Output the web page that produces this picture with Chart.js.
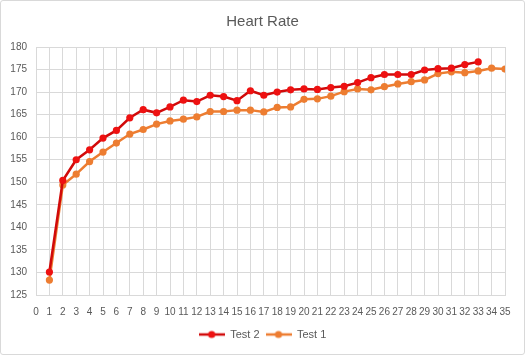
<!DOCTYPE html>
<html>
<head>
<meta charset="utf-8">
<script src="https://cdn.jsdelivr.net/npm/chart.js@4/dist/chart.umd.min.js"></script>
<style>
  html, body { margin: 0; padding: 0; background: #fff; }
  #wrap { width: 523px; height: 353px; border: 1px solid #d9d9d9; border-radius: 3px; position: relative; }
  canvas { display: block; }
</style>
</head>
<body>
<div id="wrap"><canvas id="c" width="523" height="353"></canvas></div>
<script>
const chartTitle = "Heart Rate";
const seriesNames = ["Test 2", "Test 1"];
const xTest2 = [1,2,3,4,5,6,7,8,9,10,11,12,13,14,15,16,17,18,19,20,21,22,23,24,25,26,27,28,29,30,31,32,33];
const test2 = [130.1,150.4,155.0,157.2,159.8,161.5,164.3,166.1,165.4,166.7,168.2,167.9,169.3,169.0,168.1,170.3,169.3,170.0,170.5,170.7,170.6,171.0,171.3,172.1,173.2,173.9,173.9,173.9,174.9,175.2,175.3,176.1,176.7];
const xTest1 = [1,2,3,4,5,6,7,8,9,10,11,12,13,14,15,16,17,18,19,20,21,22,23,24,25,26,27,28,29,30,31,32,33,34,35];
const test1 = [128.3,149.4,151.8,154.6,156.7,158.7,160.7,161.7,162.9,163.6,164.0,164.5,165.7,165.7,166.0,166.0,165.6,166.6,166.7,168.4,168.5,169.1,170.1,170.7,170.5,171.2,171.8,172.3,172.7,174.1,174.5,174.3,174.7,175.3,175.1];
const xMin = 0, xMax = 35, xStep = 1;
const yMin = 125, yMax = 180, yStep = 5;

const redLine = '#D10A0A', redPoint = '#EE1111';
const orangeLine = '#ED7D31', orangePoint = '#ED7D31';
const gridColor = '#D9D9D9';
const textColor = '#595959';
const fontFamily = "'Liberation Sans', Arial, sans-serif";

function legendIcon(lineColor, pointColor) {
  const c = document.createElement('canvas');
  c.width = 26; c.height = 10;
  const g = c.getContext('2d');
  g.strokeStyle = lineColor; g.lineWidth = 2.5;
  g.beginPath(); g.moveTo(0, 5); g.lineTo(26, 5); g.stroke();
  g.fillStyle = pointColor;
  g.beginPath(); g.arc(13, 5, 3.6, 0, Math.PI * 2); g.fill();
  return c;
}

const toPts = (xs, ys) => ys.map((v, i) => ({x: xs[i], y: v}));

new Chart(document.getElementById('c'), {
  type: 'line',
  data: {
    datasets: [
      { label: seriesNames[0], data: toPts(xTest2, test2), borderColor: redLine, backgroundColor: redPoint,
        pointBackgroundColor: redPoint, pointBorderColor: redPoint, pointRadius: 3.6, pointBorderWidth: 0,
        borderWidth: 2.5, tension: 0, pointStyle: 'circle' },
      { label: seriesNames[1], data: toPts(xTest1, test1), borderColor: orangeLine, backgroundColor: orangePoint,
        pointBackgroundColor: orangePoint, pointBorderColor: orangePoint, pointRadius: 3.6, pointBorderWidth: 0,
        borderWidth: 2.5, tension: 0, pointStyle: 'circle' }
    ]
  },
  options: {
    responsive: false,
    animation: false,
    layout: { padding: { left: 0, right: 0, top: 0, bottom: 4 } },
    plugins: {
      title: { display: true, text: chartTitle, color: textColor,
        font: { family: fontFamily, size: 15, weight: 'normal' }, padding: { top: 12, bottom: 16 } },
      legend: { position: 'bottom',
        labels: { color: textColor, font: { family: fontFamily, size: 11 }, usePointStyle: true,
          pointStyleWidth: 26, boxHeight: 10, padding: 6,
          generateLabels: (chart) => chart.data.datasets.map((ds, i) => ({
            text: ds.label, fillStyle: ds.pointBackgroundColor, strokeStyle: ds.borderColor,
            lineWidth: 0, pointStyle: legendIcon(ds.borderColor, ds.pointBackgroundColor),
            datasetIndex: i, hidden: false, fontColor: textColor
          }))
        } },
      tooltip: { enabled: false }
    },
    scales: {
      x: { type: 'linear', min: xMin, max: xMax,
        grid: { color: gridColor, drawTicks: false, lineWidth: 1 },
        border: { color: gridColor },
        ticks: { stepSize: xStep, autoSkip: false, maxRotation: 0, color: textColor, padding: 11,
          font: { family: fontFamily, size: 10 } },
        afterFit: (s) => { s.height = 28; } },
      y: { type: 'linear', min: yMin, max: yMax,
        grid: { color: gridColor, drawTicks: false, lineWidth: 1 },
        border: { color: gridColor },
        ticks: { stepSize: yStep, color: textColor, padding: 9,
          font: { family: fontFamily, size: 10 } },
        afterFit: (s) => { s.width = 35; } },
      yRight: { type: 'linear', position: 'right', min: yMin, max: yMax,
        grid: { display: false, drawTicks: false }, border: { display: false },
        ticks: { display: false },
        afterFit: (s) => { s.width = 19; } }
    }
  }
});
</script>
</body>
</html>
